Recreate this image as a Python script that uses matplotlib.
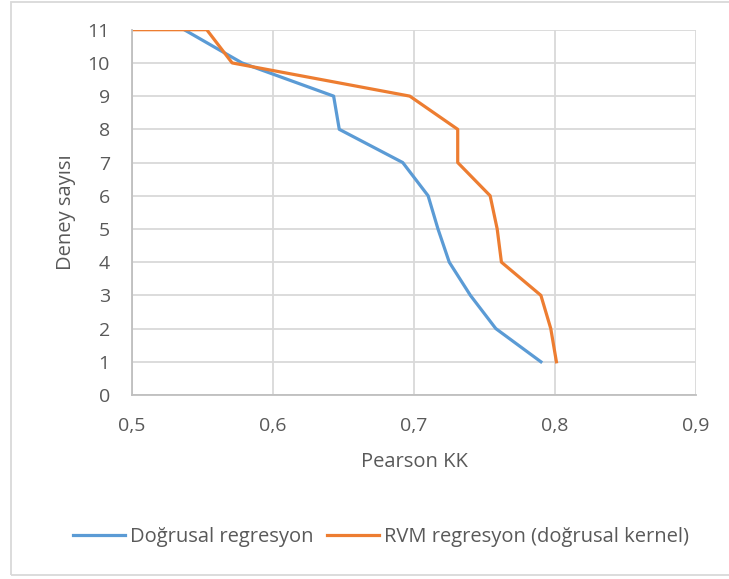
import matplotlib
matplotlib.use("Agg")
import matplotlib.pyplot as plt
from matplotlib.patches import Rectangle

# Deney sayisi (y) and Pearson KK values (x) for both methods
deney = [1, 2, 3, 4, 5, 6, 7, 8, 9, 10, 11]
dogrusal = [0.790, 0.758, 0.740, 0.725, 0.717, 0.710, 0.692, 0.647, 0.643, 0.578, 0.537]
rvm_y = [1, 2, 3, 4, 5, 6, 7, 8, 9, 10, 11, 11]
rvm = [0.801, 0.797, 0.790, 0.762, 0.759, 0.754, 0.731, 0.731, 0.697, 0.571, 0.553, 0.500]
xticks = [0.5, 0.6, 0.7, 0.8, 0.9]
xticklabels = ["0,5", "0,6", "0,7", "0,8", "0,9"]

TXT = "#595959"
GRID = "#d9d9d9"
plt.rcParams["font.family"] = ["Open Sans", "DejaVu Sans"]

fig = plt.figure(figsize=(7.29, 5.79), dpi=100)
ax = fig.add_axes([132 / 729, 1 - 395 / 579, (696 - 132) / 729, (395 - 29.7) / 579])

ax.plot(dogrusal, deney, color="#5B9BD5", lw=2.3, label="Doğrusal regresyon", solid_joinstyle="round")
ax.plot(rvm, rvm_y, color="#ED7D31", lw=2.3, label="RVM regresyon (doğrusal kernel)", solid_joinstyle="round")

ax.set_xlim(0.5, 0.9)
ax.set_ylim(0, 11)
ax.set_xticks(xticks)
ax.set_xticklabels(xticklabels)
ax.set_yticks(range(0, 12))
ax.grid(True, color=GRID, lw=1.3)
ax.set_axisbelow(True)
for s in ["top", "right"]:
    ax.spines[s].set_visible(False)
for s in ["left", "bottom"]:
    ax.spines[s].set_color("#bfbfbf")
    ax.spines[s].set_linewidth(1.3)
ax.tick_params(length=0, colors=TXT, labelsize=14)
ax.tick_params(axis="x", pad=16)
ax.tick_params(axis="y", pad=16)
ax.set_xlabel("Pearson KK", color=TXT, fontsize=14.5, labelpad=12)
ax.set_ylabel("Deney sayısı", color=TXT, fontsize=14.5, labelpad=8)

fig.legend(loc="center", bbox_to_anchor=(381 / 729, 1 - 537 / 579), ncol=2, frameon=False,
           fontsize=14.5, labelcolor=TXT, handlelength=2.6, handletextpad=0.25, columnspacing=0.65)

fig.patches.append(Rectangle((11 / 729, 1 - 575 / 579), 1, 573 / 579, transform=fig.transFigure,
                             fill=False, edgecolor="#d9d9d9", lw=1.3))

fig.savefig("out.png", dpi=100)
